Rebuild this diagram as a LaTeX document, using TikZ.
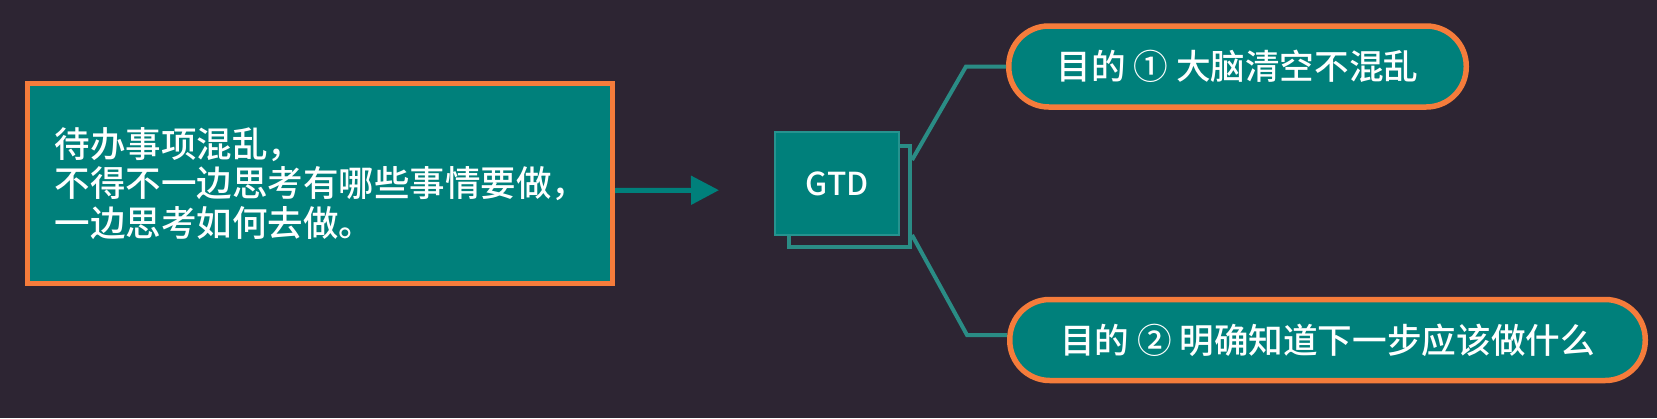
\documentclass[tikz,border=0pt]{standalone}
\usepackage{fontspec}
\setmainfont{Noto Sans CJK SC}[UprightFont={* Medium}]
\usetikzlibrary{positioning}
\usetikzlibrary{arrows.meta}
\definecolor{bgdark}{HTML}{2D2533}
\definecolor{tealfill}{HTML}{00807B}
\definecolor{tealline}{HTML}{2A8C85}
\definecolor{orangeedge}{HTML}{F57C3B}
\tikzset{
        boxnode/.style={align=center,inner sep=0pt,text=white},
        % Problem box on the left
        node_problem/.style={boxnode, rectangle, fill=tealfill, draw=orangeedge, line width=0.1cm, minimum width=11.7cm, minimum height=4cm, text width=10.6cm, align=left, font=\fontsize{20.2}{22.4}\selectfont},
        % GTD box and its shadow
        node_gtd/.style={boxnode, rectangle, fill=tealfill, draw=tealfill!85!white, line width=0.04cm, minimum width=2.48cm, minimum height=2.06cm, font=\fontsize{18}{20}\selectfont},
        node_shadow/.style={rectangle, fill=bgdark, draw=tealline, line width=0.08cm, minimum width=2.42cm, minimum height=2.02cm},
        % Goal pills
        node_goal/.style={boxnode, rectangle, rounded corners=0.8cm, fill=tealfill, draw=orangeedge, line width=0.11cm, minimum height=1.62cm, font=\fontsize{19.7}{21}\selectfont},
        % Connectors
        line_link/.style={draw=tealline, line width=0.08cm}
}
\begin{document}
\begin{tikzpicture}[
            flow/.style={-{Triangle[length=0.56cm,width=0.56cm]}, draw=tealfill, line width=0.1cm, shorten >=1.1cm}
        ]
            \fill[bgdark] (0,0) rectangle (33.14,8.36);
            \useasboundingbox (0,0) rectangle (33.14,8.36);
            \node[node_problem] (problem) at (6.4,4.69) {待办事项混乱，\\不得不一边思考有哪些事情要做，\\一边思考如何去做。};
            \node[node_gtd, right=3.18cm of problem] (gtd) {};
            \node[node_shadow] (shadow) at ([xshift=0.25cm,yshift=-0.26cm]gtd.center) {};
            \node[node_gtd] (gtdtop) at (gtd.center) {GTD};
            \node[node_goal, minimum width=9.15cm] (goal1) at (24.75,7.03) {目的 ① 大脑清空不混乱};
            \node[node_goal, minimum width=12.71cm] (goal2) at (26.55,1.56) {目的 ② 明确知道下一步应该做什么};
            \draw[flow] ([yshift=-0.14cm]problem.east) -- ([yshift=-0.13cm]gtd.west);
            \draw[line_link] ([yshift=-0.32cm]shadow.north east) -- ([xshift=-0.8cm]goal1.west) -- (goal1.west);
            \draw[line_link] ([yshift=0.28cm]shadow.south east) -- ([xshift=-0.8cm,yshift=0.1cm]goal2.west) -- ([yshift=0.1cm]goal2.west);
        \end{tikzpicture}
\end{document}
